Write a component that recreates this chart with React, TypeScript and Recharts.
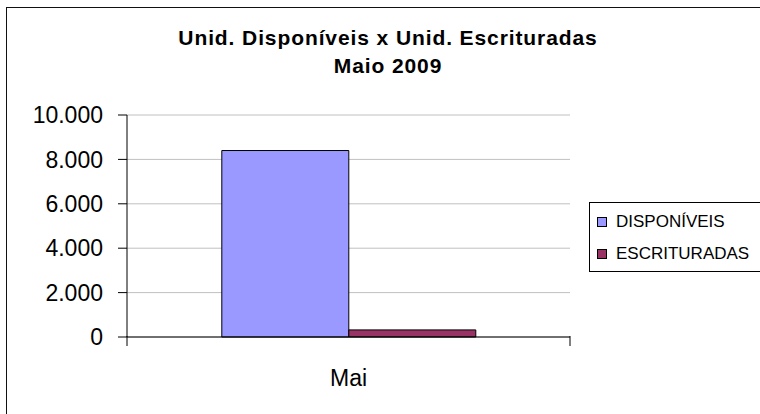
import { BarChart, Bar, XAxis, YAxis, CartesianGrid } from "recharts";

const months = ["Mai"];
const disponiveis = [8400];
const escrituradas = [320];
const yTicks = [0, 2000, 4000, 6000, 8000, 10000];

const series = [
  { key: "disponiveis", name: "DISPONÍVEIS", color: "#9999FF", values: disponiveis },
  { key: "escrituradas", name: "ESCRITURADAS", color: "#993366", values: escrituradas },
];

const data = months.map((m, i) => ({
  month: m,
  disponiveis: disponiveis[i],
  escrituradas: escrituradas[i],
}));

const font = '"Liberation Sans", Arial, Helvetica, sans-serif';

const fmt = (v: number) => String(v).replace(/\B(?=(\d{3})+(?!\d))/g, ".");

const X_TICK_SIZE = 6;
const X_TICK_MARGIN = 27;

// category label plus the small tick marks at the edges of each band
function CategoryTick(props: any) {
  const { x, y, payload, width, visibleTicksCount } = props;
  const half = Number(width) / (visibleTicksCount || 1) / 2;
  const top = y - X_TICK_SIZE - X_TICK_MARGIN - 1;
  return (
    <g>
      <line x1={x - half} x2={x - half} y1={top} y2={top + 10} stroke="#000" />
      <line x1={x + half} x2={x + half} y1={top} y2={top + 10} stroke="#000" />
      <text
        x={x}
        y={y}
        dy="0.71em"
        textAnchor="middle"
        fontSize={23}
        fontFamily={font}
        fill="#000"
      >
        {payload.value}
      </text>
    </g>
  );
}

export default function App() {
  return (
    <div
      style={{
        position: "absolute",
        left: 0,
        top: 0,
        width: 760,
        height: 414,
        overflow: "hidden",
        background: "#fff",
        fontFamily: font,
      }}
    >
      <div
        style={{
          position: "absolute",
          left: 6,
          top: 7,
          width: 800,
          height: 500,
          borderTop: "1px solid #111",
          borderLeft: "1px solid #111",
        }}
      />
      <div
        style={{
          position: "absolute",
          left: 88,
          width: 600,
          top: 24,
          textAlign: "center",
          fontWeight: "bold",
          fontSize: 21,
          letterSpacing: 0.9,
          lineHeight: "28px",
          color: "#000",
        }}
      >
        <div>Unid. Disponíveis x Unid. Escrituradas</div>
        <div>Maio 2009</div>
      </div>

      <div style={{ position: "absolute", left: 0, top: 0 }}>
        <BarChart
          width={760}
          height={414}
          data={data}
          margin={{ top: 115, right: 190, bottom: 76, left: 0 }}
          barCategoryGap="21.4%"
          barGap={0}
        >
          <CartesianGrid vertical={false} stroke="#c0c0c0" />
          <XAxis
            dataKey="month"
            height={1}
            tickLine={false}
            tickSize={X_TICK_SIZE}
            tickMargin={X_TICK_MARGIN}
            axisLine={{ stroke: "#000" }}
            tick={CategoryTick}
          />
          <YAxis
            width={127}
            domain={[0, 10000]}
            ticks={yTicks}
            tickFormatter={fmt}
            tickSize={9}
            tickMargin={15}
            axisLine={{ stroke: "#000" }}
            tickLine={{ stroke: "#000" }}
            tick={{ fontSize: 23, fill: "#000", fontFamily: font }}
          />
          {series.map((s) => (
            <Bar
              key={s.key}
              dataKey={s.key}
              name={s.name}
              fill={s.color}
              stroke="#000"
              strokeWidth={1}
              isAnimationActive={false}
            />
          ))}
        </BarChart>
      </div>

      <div
        style={{
          position: "absolute",
          left: 589,
          top: 202,
          width: 200,
          height: 68,
          borderTop: "1px solid #000",
          borderLeft: "1px solid #000",
          borderBottom: "1px solid #000",
          background: "#fff",
        }}
      >
        {series.map((s, i) => (
          <div
            key={s.key}
            style={{
              position: "absolute",
              left: 7,
              top: 9 + i * 32,
              display: "flex",
              alignItems: "center",
              height: 20,
              fontSize: 17,
              color: "#000",
              whiteSpace: "nowrap",
            }}
          >
            <span
              style={{
                display: "inline-block",
                width: 8,
                height: 8,
                background: s.color,
                border: "1px solid #000",
                marginRight: 9,
              }}
            />
            {s.name}
          </div>
        ))}
      </div>
    </div>
  );
}
